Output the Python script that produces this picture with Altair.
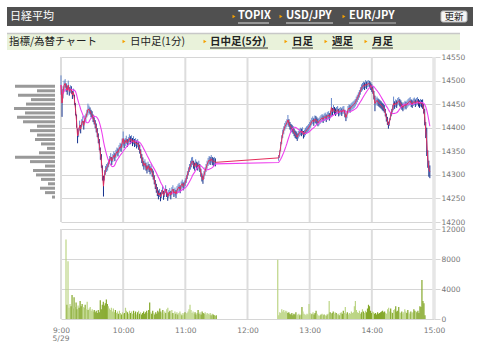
import altair as alt
import pandas as pd

# ---------------- data ----------------
# 1-minute candles: morning 9:00-11:29, afternoon 12:30-14:56 (minutes since 9:00)
am_lo = [14470,14423,14462,14480,14485,14476,14470,14481,14468,14474,14472,14461,14467,14448,14426,14400,14367,14380,14394,14388,
         14401,14405,14396,14409,14414,14422,14426,14431,14428,14422,14420,14412,14407,14399,14390,14380,14367,14352,14332,14315,
         14288,14254,14288,14300,14306,14309,14316,14323,14329,14321,14327,14333,14329,14336,14341,14339,14346,14351,14349,14358,
         14362,14357,14361,14366,14359,14363,14369,14365,14367,14361,14365,14359,14361,14356,14359,14353,14345,14335,14325,14318,
         14311,14316,14309,14303,14311,14306,14301,14306,14296,14290,14280,14270,14262,14255,14248,14253,14244,14251,14259,14247,
         14253,14261,14253,14245,14251,14255,14248,14257,14261,14253,14256,14251,14259,14263,14266,14261,14269,14273,14267,14271,
         14276,14283,14291,14299,14306,14311,14316,14321,14313,14309,14316,14311,14309,14313,14306,14296,14286,14281,14291,14299,
         14306,14313,14319,14323,14321,14326,14321,14319,14321,14318]
am_hi = [14511,14482,14488,14500,14503,14494,14489,14500,14486,14490,14488,14478,14483,14470,14452,14428,14398,14400,14415,14406,
         14418,14424,14414,14426,14430,14438,14451,14447,14443,14438,14435,14428,14422,14416,14409,14399,14388,14376,14358,14344,
         14320,14298,14310,14319,14323,14326,14333,14340,14346,14338,14344,14350,14346,14353,14358,14356,14363,14368,14366,14377,
         14392,14375,14378,14383,14376,14380,14386,14382,14384,14378,14382,14376,14378,14373,14376,14370,14364,14354,14344,14337,
         14329,14333,14326,14320,14328,14323,14318,14323,14313,14309,14299,14289,14281,14274,14267,14270,14263,14268,14276,14266,
         14270,14278,14270,14263,14268,14272,14266,14274,14278,14270,14273,14268,14276,14280,14283,14278,14286,14290,14284,14288,
         14293,14300,14308,14316,14323,14330,14337,14338,14330,14326,14333,14328,14326,14330,14323,14313,14303,14298,14308,14316,
         14323,14330,14336,14340,14338,14342,14338,14336,14338,14335]
pm_lo = [14330,14336,14350,14365,14378,14386,14394,14398,14402,14406,14402,14396,14392,14390,14387,14382,14378,14376,14372,14377,
         14381,14384,14382,14385,14377,14380,14384,14387,14389,14392,14396,14400,14405,14408,14404,14410,14409,14406,14403,14405,
         14408,14411,14413,14410,14414,14416,14412,14417,14419,14415,14420,14423,14426,14432,14428,14425,14428,14430,14424,14426,
         14428,14425,14429,14430,14422,14414,14420,14430,14434,14432,14436,14438,14440,14442,14445,14450,14454,14459,14464,14470,
         14476,14479,14482,14480,14484,14482,14486,14487,14484,14480,14476,14472,14460,14435,14447,14450,14446,14444,14442,14440,
         14437,14435,14432,14424,14413,14406,14398,14404,14416,14424,14432,14437,14440,14444,14442,14447,14449,14445,14442,14438,
         14435,14438,14441,14439,14442,14445,14447,14449,14444,14442,14446,14448,14444,14447,14449,14445,14442,14445,14443,14440,
         14430,14405,14378,14340,14315,14296,14293]
pm_hi = [14342,14352,14370,14384,14396,14403,14410,14414,14418,14427,14418,14412,14408,14406,14403,14398,14394,14392,14388,14393,
         14397,14400,14398,14401,14393,14396,14400,14403,14405,14408,14412,14416,14421,14424,14420,14426,14425,14422,14419,14421,
         14424,14427,14429,14426,14430,14432,14428,14433,14435,14431,14436,14463,14442,14448,14444,14441,14444,14446,14440,14442,
         14444,14441,14445,14446,14438,14430,14436,14446,14450,14448,14452,14454,14456,14458,14461,14466,14470,14475,14480,14486,
         14492,14495,14498,14496,14501,14498,14500,14501,14499,14496,14492,14488,14478,14468,14463,14466,14462,14460,14458,14456,
         14453,14451,14448,14440,14430,14423,14413,14420,14432,14440,14448,14466,14456,14460,14458,14463,14465,14461,14458,14454,
         14451,14454,14457,14455,14458,14461,14463,14465,14460,14458,14462,14464,14460,14463,14465,14461,14458,14461,14459,14460,
         14450,14440,14412,14400,14352,14330,14320]
am_vol = [10600,1900,7700,1500,2000,1700,3200,1400,2900,1600,2200,1300,1800,1500,2400,1700,2000,1600,1500,1900,
          1300,2300,1200,1400,1600,1100,1300,1000,1200,900,1100,800,1200,900,2500,1300,1900,2300,1800,2100,
          2600,2000,1700,1400,1200,1500,1000,1400,900,1200,800,1000,700,1100,800,600,900,700,800,1500,
          1100,900,700,1100,800,1000,700,1100,800,1000,600,900,1100,700,900,600,800,1000,700,900,
          1100,800,1200,2200,900,700,1100,800,600,900,700,1100,900,1400,1000,800,1200,700,1000,800,
          1300,1500,900,1100,700,1200,800,600,1000,700,900,600,800,1000,700,500,800,600,900,700,
          800,1000,1300,1900,1200,800,1000,700,900,600,800,1200,700,900,600,1000,800,700,900,600,
          800,700,600,800,500,700,600,500,400,500]
pm_vol = [7900,500,900,800,1300,1000,1200,900,1100,1000,800,900,700,600,800,500,700,600,900,500,
          600,700,500,600,1600,1000,700,600,500,700,600,2000,800,600,700,900,600,800,1100,700,
          500,400,500,600,700,500,600,500,400,600,700,2400,900,700,800,1000,700,900,800,600,
          700,500,800,900,700,1100,800,1600,700,900,600,800,700,1000,800,900,1700,2400,1200,900,
          800,1100,700,900,1300,1000,800,1100,900,1400,1900,1700,1100,800,1000,900,700,800,600,900,
          700,800,900,1000,1100,900,1000,800,700,1300,1500,1000,1400,900,800,1200,1300,1700,1000,1100,
          1600,900,800,1000,700,900,1300,1000,800,1200,900,700,1000,800,900,1300,1100,1000,900,1100,
          800,1700,1600,5200,2400,2100,500]
am_t = list(range(0, 150))
pm_t = list(range(210, 357))

# volume-by-price profile (left side), 10-yen bins
prof_price = [14495,14485,14475,14465,14455,14445,14435,14425,14415,14405,14395,14385,14375,
              14365,14355,14345,14335,14325,14315,14305,14295,14285,14275,14265,14255,14245]
prof_len = [40,18,37,24,29,41,30,38,32,18,25,18,20,14,8,16,40,25,10,22,19,14,7,15,10,3]

price_ticks = [14200,14250,14300,14350,14400,14450,14500,14550]
vol_ticks = [0,4000,8000,12000]
hour_ticks = [0,60,120,180,240,300,360]
date_label = ["5/29"]

# ---------------- layout constants ----------------
OX, OY = 61, 57          # plot origin in the page
W, H = 373, 262          # plot area (both panels)
PH = 165                 # price panel height
VT, VB = 172, 262        # volume panel top / bottom
JP = "Noto Sans CJK JP"
AX = "DejaVu Sans"

df = pd.DataFrame({"t": am_t + pm_t, "lo": am_lo + pm_lo, "hi": am_hi + pm_hi, "vol": am_vol + pm_vol})

xS = alt.Scale(domain=[0, 360], nice=False, zero=False)
yP = alt.Scale(domain=[14200, 14550], range=[PH, 0], nice=False, zero=False)
yV = alt.Scale(domain=[0, 12000], range=[VB, VT], nice=False, zero=True)

one = pd.DataFrame({"k": [0]})

def rect(x1, y1, x2, y2, **kw):
    return alt.Chart(one).mark_rect(**kw).encode(
        x=alt.value(x1 - OX), x2=alt.value(x2 - OX), y=alt.value(y1 - OY), y2=alt.value(y2 - OY))

def hline(x1, x2, y, color, w=1):
    return alt.Chart(one).mark_rule(color=color, strokeWidth=w).encode(
        x=alt.value(x1 - OX), x2=alt.value(x2 - OX), y=alt.value(y - OY))

def text(s, x, y, size=11, color="#222", weight="normal", align="left", font=JP):
    return alt.Chart(pd.DataFrame({"s": [s]})).mark_text(
        align=align, baseline="middle", fontSize=size, color=color, fontWeight=weight, font=font
    ).encode(text="s:N", x=alt.value(x - OX), y=alt.value(y - OY))

def tri(x, y):
    return alt.Chart(one).mark_point(shape="triangle-right", filled=True, size=12, color="#f5a000", opacity=1).encode(
        x=alt.value(x - OX), y=alt.value(y - OY))

header = [
    rect(7, 7, 473, 26, color="#505050"),
    text("日経平均", 10, 16.5, size=11, color="#ffffff"),
    tri(234, 16.5), text("TOPIX", 238, 16, size=11, color="#ffffff", weight="bold"), hline(238, 269, 23, "#dddddd"),
    tri(281, 16.5), text("USD/JPY", 286, 16, size=11, color="#ffffff", weight="bold"), hline(286, 333, 23, "#dddddd"),
    tri(344, 16.5), text("EUR/JPY", 349, 16, size=11, color="#ffffff", weight="bold"), hline(349, 396, 23, "#bbbbbb"),
    rect(441, 11, 467, 22, color="#f4f4f4", stroke="#bbbbbb", strokeWidth=1, cornerRadius=2),
    text("更新", 454, 16.5, size=9.5, color="#222", align="center"),
    rect(7, 33, 460, 50, color="#e9f2da"),
    hline(7, 460, 33.5, "#c8c8c8", 1.5),
    text("指標/為替チャート", 9, 41.5, size=10.5, color="#222"),
    tri(124, 41.5), text("日中足(1分)", 130, 41.5, size=10.5, color="#222"),
    tri(205, 41.5), text("日中足(5分)", 210, 41.5, size=10.5, color="#222", weight="bold"), hline(210, 268, 48, "#333"),
    tri(286, 41.5), text("日足", 292, 41.5, size=10.5, color="#222", weight="bold"), hline(292, 313, 48, "#333"),
    tri(326, 41.5), text("週足", 332, 41.5, size=10.5, color="#222", weight="bold"), hline(332, 353, 48, "#333"),
    tri(366, 41.5), text("月足", 372, 41.5, size=10.5, color="#222", weight="bold"), hline(372, 393, 48, "#333"),
]

hours = pd.DataFrame({"h": hour_ticks})
x_axis = alt.Axis(orient="bottom", values=hour_ticks, grid=False, domain=False, ticks=False,
                  labelExpr="(floor(datum.value / 60) + 9) + ':00'",
                  labelFont=AX, labelFontSize=7.5, labelColor="#777", labelPadding=7,
                  labelFlush=False, labelOverlap=False, title=None)
vgrid_p = alt.Chart(hours).mark_rule(color="#dddddd", strokeWidth=2).encode(
    x=alt.X("h:Q", scale=xS, axis=x_axis), y=alt.value(0), y2=alt.value(PH))
vgrid_v = alt.Chart(hours).mark_rule(color="#dddddd", strokeWidth=2).encode(
    x=alt.X("h:Q", scale=xS, axis=None), y=alt.value(VT), y2=alt.value(VB))
end_band = alt.Chart(pd.DataFrame({"h": [360]})).mark_rule(color="#e6e6e6", strokeWidth=3.5).encode(
    x=alt.X("h:Q", scale=xS, axis=None), y=alt.value(0), y2=alt.value(VB))
date_txt = alt.Chart(pd.DataFrame({"h": [0], "s": date_label})).mark_text(
    font=AX, fontSize=7.5, color="#777", align="center", baseline="middle").encode(
    x=alt.X("h:Q", scale=xS, axis=None), y=alt.value(339 - OY), text="s:N")

price_axis = alt.Axis(orient="right", values=price_ticks, format="d", grid=True, gridColor="#d6d6d6", gridWidth=1,
                      tickColor="#d6d6d6", tickSize=6, domain=False, labelFont=AX, labelFontSize=7.5,
                      labelColor="#777", labelPadding=1, labelOverlap=False, title=None)
vol_axis = alt.Axis(orient="right", values=vol_ticks, format="d", grid=True, gridColor="#d6d6d6", gridWidth=1,
                    tickColor="#d6d6d6", tickSize=6, domain=False, labelFont=AX, labelFontSize=7.5,
                    labelColor="#777", labelPadding=1, labelOverlap=False, title=None)

profile = alt.Chart(pd.DataFrame({"p": prof_price, "n": prof_len})).mark_bar(
    orient="horizontal", size=3, color="#999999").encode(
    y=alt.Y("p:Q", scale=yP, axis=None),
    x=alt.X("n:Q", scale=alt.Scale(domain=[0, 42], range=[-6, -48], nice=False, zero=True), axis=None))

base = (alt.Chart(df)
        .transform_calculate(mid="(datum.hi + datum.lo) / 2")
        .transform_window(prev="lag(mid)", sort=[alt.SortField("t")])
        .transform_calculate(dir="datum.prev == null || datum.mid >= datum.prev ? 'up' : 'down'"))

xT = alt.X("t:Q", scale=xS, axis=None)
candles = base.mark_rule(strokeWidth=1).encode(
    x=xT, y=alt.Y("lo:Q", scale=yP, axis=price_axis), y2="hi:Q",
    color=alt.Color("dir:N", scale=alt.Scale(domain=["up", "down"], range=["#6688cc", "#14308c"]), legend=None))
red = base.mark_line(color="#e62c5c", strokeWidth=1).encode(x=xT, y=alt.Y("mid:Q", scale=yP, axis=None))
magenta = (base.transform_window(ma="mean(mid)", frame=[-11, 0], sort=[alt.SortField("t")])
           .mark_line(color="#ee40ee", strokeWidth=1.1)
           .encode(x=xT, y=alt.Y("ma:Q", scale=yP, axis=None)))
volume = base.mark_bar(size=1.2).encode(
    x=xT, y=alt.Y("vol:Q", scale=yV, axis=vol_axis),
    color=alt.Color("dir:N", scale=alt.Scale(domain=["up", "down"], range=["#bcd585", "#84a82a"]), legend=None))

chart = alt.layer(
    *header, vgrid_p, vgrid_v, end_band, date_txt, profile, candles, magenta, red, volume
).resolve_scale(x="independent", y="independent", color="independent").properties(
    width=W, height=H,
    autosize=alt.AutoSizeParams(type="none"),
    padding={"left": OX, "top": OY, "right": 480 - OX - W, "bottom": 354 - OY - H},
    background="#ffffff",
).configure_view(stroke="transparent")

chart.save("out.html", embed_options={"renderer": "svg", "actions": False})
